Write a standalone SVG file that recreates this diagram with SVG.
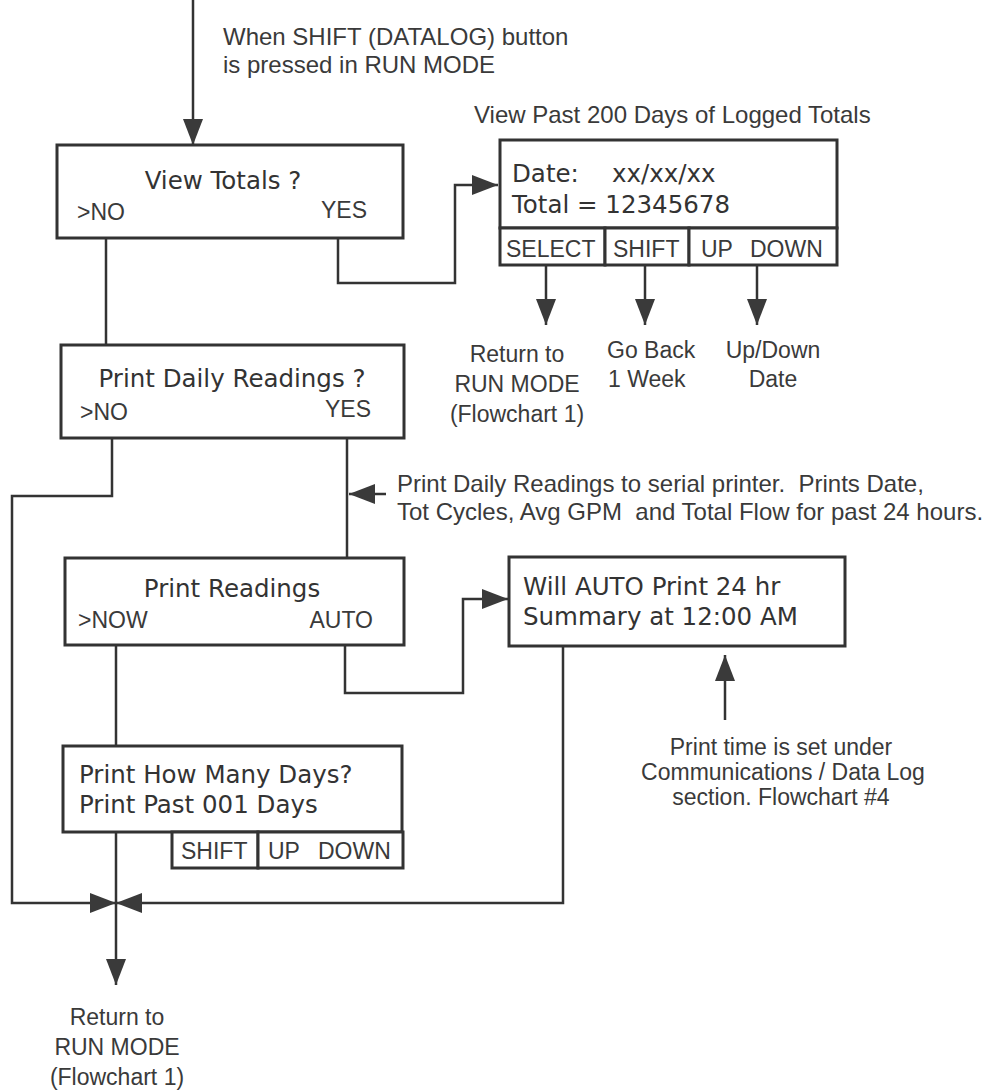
<svg xmlns="http://www.w3.org/2000/svg" width="987" height="1092" viewBox="0 0 987 1092">
<defs>
<style>
.box{fill:#fff;stroke:#333;stroke-width:3}
.ln{fill:none;stroke:#333;stroke-width:2.5}
.arr{marker-end:url(#ah)}
.lcd{font-family:"DejaVu Sans","Open Sans",sans-serif;font-size:24.5px;fill:#333}
.lbl{font-family:"Liberation Sans",Arial,sans-serif;font-size:23px;fill:#3a3a3a}
.big{font-size:24px}
.mid{text-anchor:middle}
.end{text-anchor:end}
</style>
<marker id="ah" viewBox="0 0 26 20" refX="26" refY="10" markerWidth="26" markerHeight="20" markerUnits="userSpaceOnUse" orient="auto">
<path d="M0,0 L26,10 L0,20 Z" fill="#3a3a3a"/>
</marker>
</defs>
<rect width="987" height="1092" fill="#fff"/>

<g id="connectors">
<path class="ln arr" d="M193,0 V145"/>
<path class="ln" d="M106,238 V345"/>
<path class="ln arr" d="M338,238 V283 H455 V185 H498"/>
<path class="ln arr" d="M546,265 V325"/>
<path class="ln arr" d="M645,265 V325"/>
<path class="ln arr" d="M757,265 V325"/>
<path class="ln arr" d="M112,438 V496 H12 V903 H116"/>
<path class="ln" d="M347,438 V558"/>
<path class="ln arr" d="M386,494 H349"/>
<path class="ln arr" d="M345,645 V693 H463 V599 H508"/>
<path class="ln" d="M116,645 V746"/>
<path class="ln arr" d="M116,832 V985"/>
<path class="ln arr" d="M563,646 V903 H116"/>
<path class="ln arr" d="M725,720 V655"/>
</g>

<g id="note_entry">
<text class="lbl big" x="223" y="45">When SHIFT (DATALOG) button</text>
<text class="lbl big" x="223" y="73">is pressed in RUN MODE</text>
</g>

<g id="view_totals">
<rect class="box" x="57" y="145" width="346" height="93"/>
<text class="lcd mid" x="223" y="189">View Totals ?</text>
<text class="lbl" x="77" y="220">&gt;NO</text>
<text class="lbl end" x="367" y="218">YES</text>
</g>

<g id="date_display">
<text class="lbl big" x="474" y="123">View Past 200 Days of Logged Totals</text>
<rect class="box" x="500" y="140" width="337" height="88"/>
<text class="lcd" x="512" y="182">Date:</text>
<text class="lcd" x="612" y="182">xx/xx/xx</text>
<text class="lcd" x="512" y="213">Total = 12345678</text>
<rect class="box" x="500" y="228" width="105" height="37"/>
<rect class="box" x="605" y="228" width="84" height="37"/>
<rect class="box" x="689" y="228" width="148" height="37"/>
<text class="lbl" x="506" y="257">SELECT</text>
<text class="lbl" x="613" y="257">SHIFT</text>
<text class="lbl" x="701" y="257">UP</text>
<text class="lbl" x="750" y="257">DOWN</text>
</g>

<g id="select_result">
<text class="lbl mid" x="517" y="362">Return to</text>
<text class="lbl mid" x="517" y="392">RUN MODE</text>
<text class="lbl mid" x="517" y="422">(Flowchart 1)</text>
</g>
<g id="shift_result">
<text class="lbl" x="607" y="358">Go Back</text>
<text class="lbl" x="608" y="387">1 Week</text>
</g>
<g id="updown_result">
<text class="lbl mid" x="773" y="358">Up/Down</text>
<text class="lbl mid" x="773" y="387">Date</text>
</g>

<g id="print_daily">
<rect class="box" x="61" y="345" width="343" height="93"/>
<text class="lcd mid" x="232" y="387">Print Daily Readings ?</text>
<text class="lbl" x="80" y="420">&gt;NO</text>
<text class="lbl end" x="371" y="417">YES</text>
</g>

<g id="note_print">
<text class="lbl big" x="397" y="492" xml:space="preserve">Print Daily Readings to serial printer.  Prints Date,</text>
<text class="lbl big" x="397" y="520" xml:space="preserve">Tot Cycles, Avg GPM  and Total Flow for past 24 hours.</text>
</g>

<g id="print_readings">
<rect class="box" x="65" y="558" width="339" height="87"/>
<text class="lcd mid" x="232" y="597">Print Readings</text>
<text class="lbl" x="78" y="628">&gt;NOW</text>
<text class="lbl end" x="373" y="628">AUTO</text>
</g>

<g id="will_auto">
<rect class="box" x="509" y="557" width="336" height="89"/>
<text class="lcd" x="523" y="595">Will AUTO Print 24 hr</text>
<text class="lcd" x="523" y="625">Summary at 12:00 AM</text>
</g>

<g id="note_time">
<text class="lbl mid" x="781" y="755">Print time is set under</text>
<text class="lbl mid" x="783" y="780">Communications / Data Log</text>
<text class="lbl mid" x="781" y="805">section. Flowchart #4</text>
</g>

<g id="print_days">
<rect class="box" x="63" y="746" width="339" height="86"/>
<text class="lcd" x="79" y="783">Print How Many Days?</text>
<text class="lcd" x="79" y="813">Print Past 001 Days</text>
<rect class="box" x="172" y="832" width="86" height="36"/>
<rect class="box" x="258" y="832" width="145" height="36"/>
<text class="lbl" x="181" y="859">SHIFT</text>
<text class="lbl" x="268" y="859">UP</text>
<text class="lbl" x="318" y="859">DOWN</text>
</g>

<g id="return_run">
<text class="lbl mid" x="117" y="1025">Return to</text>
<text class="lbl mid" x="117" y="1055">RUN MODE</text>
<text class="lbl mid" x="117" y="1085">(Flowchart 1)</text>
</g>
</svg>
